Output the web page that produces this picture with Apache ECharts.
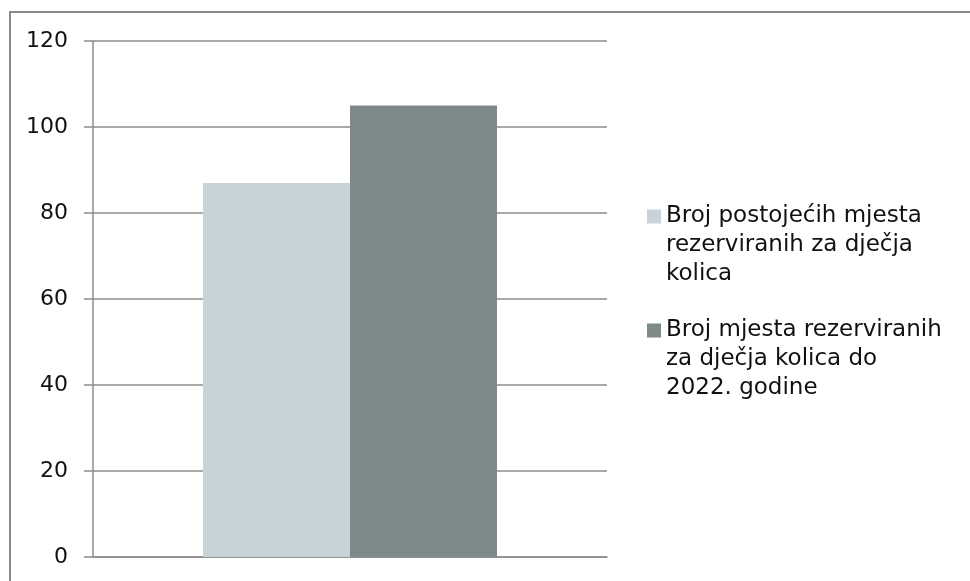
<!DOCTYPE html>
<html>
<head>
<meta charset="utf-8">
<script src="https://cdn.jsdelivr.net/npm/echarts@6/dist/echarts.min.js"></script>
<style>
  html, body { margin: 0; padding: 0; background: #fff; }
  #chart { width: 970px; height: 581px; }
</style>
</head>
<body>
<div id="chart"></div>
<script>
// podaci
const categories = [''];
const seriesNames = [
  'Broj postojećih mjesta\nrezerviranih za dječja\nkolica',
  'Broj mjesta rezerviranih\nza dječja kolica do\n2022. godine'
];
const existingSpots = [87];
const plannedSpots = [105];
const seriesColors = ['#c8d3d8', '#7e8a89'];

const chart = echarts.init(document.getElementById('chart'), null, { renderer: 'canvas' });

const font = 'DejaVu Sans';

chart.setOption({
  backgroundColor: '#fff',
  animation: false,
  color: seriesColors,
  graphic: [{
    type: 'rect',
    shape: { x: 10, y: 12, width: 980, height: 600 },
    style: { fill: 'none', stroke: '#8a8a8a', lineWidth: 2 },
    silent: true
  }],
  grid: {
    left: 93,
    right: 970 - 607,
    top: 41,
    bottom: 581 - 557
  },
  legend: {
    orient: 'vertical',
    left: 642,
    top: 139,
    icon: 'rect',
    itemWidth: 14,
    itemHeight: 14,
    itemGap: -31,
    selectedMode: false,
    // prazni redovi gore da ikona stoji uz prvi red teksta
    formatter: name => '\n\n' + name,
    textStyle: {
      fontFamily: font,
      fontSize: 23,
      color: '#111',
      lineHeight: 29
    },
    data: seriesNames
  },
  xAxis: {
    type: 'category',
    data: categories,
    axisLine: { show: true, lineStyle: { color: '#8c8c8c', width: 1.5 } },
    axisTick: { show: false },
    axisLabel: { show: false }
  },
  yAxis: {
    type: 'value',
    min: 0,
    max: 120,
    interval: 20,
    axisLine: { show: true, lineStyle: { color: '#8c8c8c', width: 1.5 } },
    axisTick: { show: true, length: 9, lineStyle: { color: '#8c8c8c', width: 1.5 } },
    axisLabel: {
      margin: 25,
      fontFamily: font,
      fontSize: 22,
      color: '#111'
    },
    splitLine: { show: true, lineStyle: { color: '#8c8c8c', width: 1.5 } }
  },
  series: [
    {
      name: seriesNames[0],
      type: 'bar',
      data: existingSpots,
      barWidth: 147,
      barGap: '0%',
      itemStyle: { color: seriesColors[0] }
    },
    {
      name: seriesNames[1],
      type: 'bar',
      data: plannedSpots,
      barWidth: 147,
      barGap: '0%',
      itemStyle: { color: seriesColors[1] }
    }
  ]
});
</script>
</body>
</html>
